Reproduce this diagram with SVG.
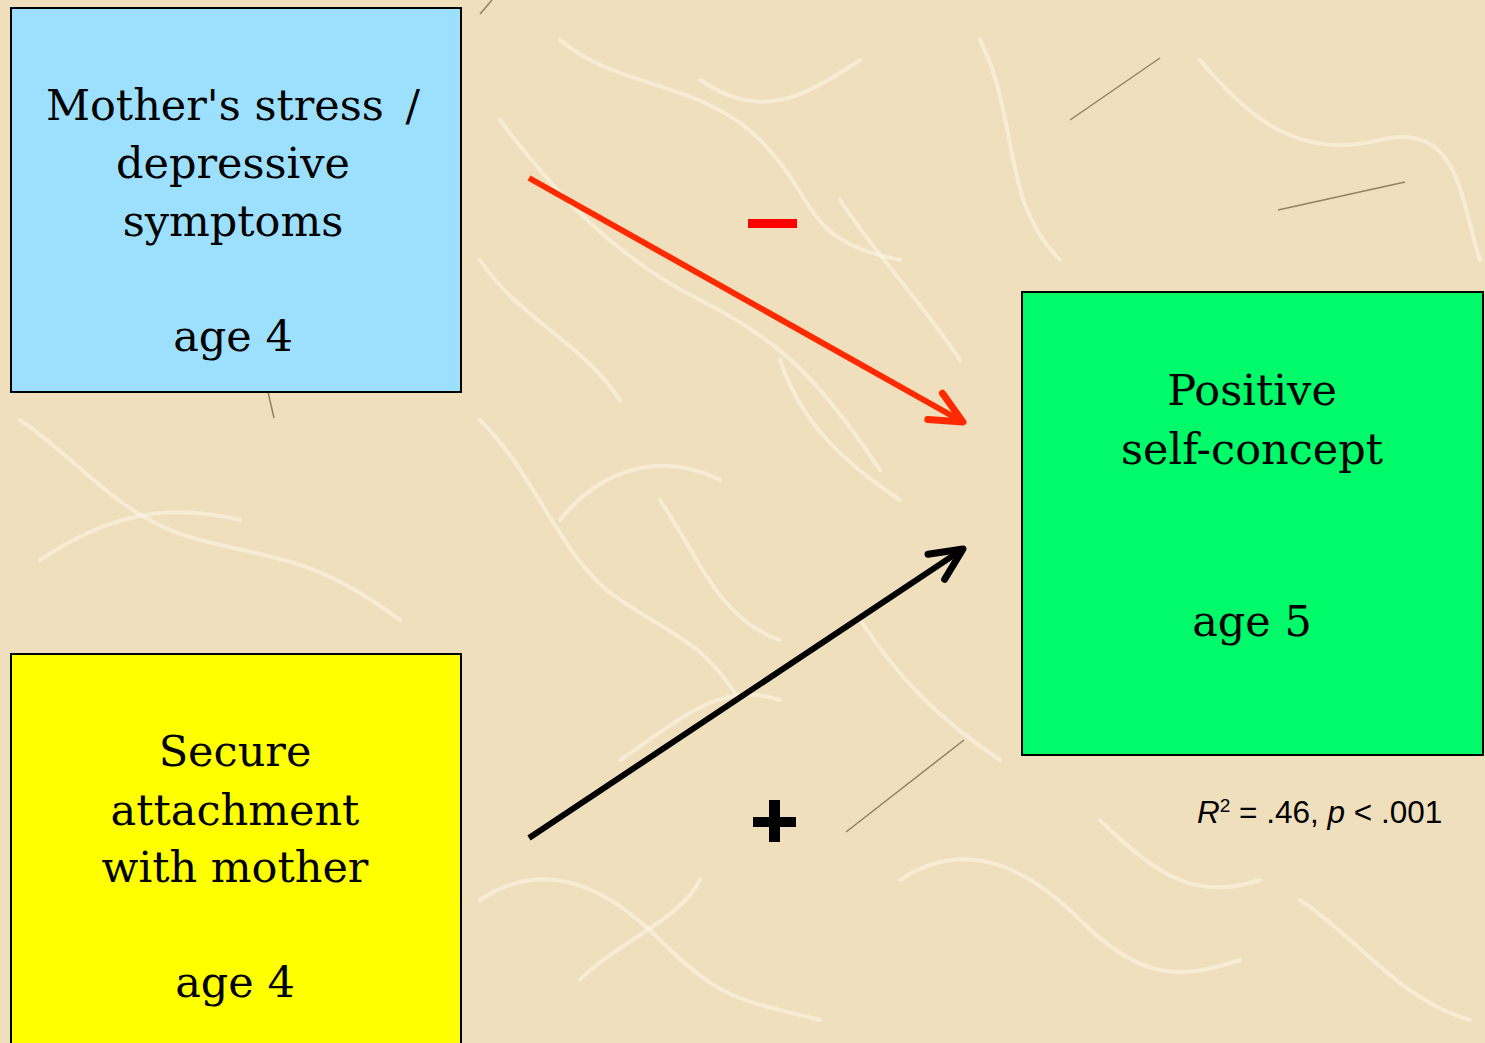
<svg xmlns="http://www.w3.org/2000/svg" width="1485" height="1043" viewBox="0 0 1485 1043">
<defs>
<style>
.box{stroke:#000;stroke-width:2}
.lbl{font-family:"DejaVu Serif","Liberation Serif",serif;font-size:43px;fill:#000;text-anchor:middle}
.fib{fill:none;stroke:#fbf6ea;stroke-width:4;stroke-linecap:round;opacity:0.6}
.hair{fill:none;stroke:#6b5a3a;stroke-width:1.5;opacity:0.7}
</style>
<marker id="hr" markerWidth="10" markerHeight="10" refX="0" refY="0" orient="auto" markerUnits="userSpaceOnUse" overflow="visible">
<path d="M-32,-15 L0,0 L-32,15" fill="none" stroke="#ff2a00" stroke-width="7" stroke-linecap="round" stroke-linejoin="round"/>
</marker>
<marker id="hb" markerWidth="10" markerHeight="10" refX="0" refY="0" orient="auto" markerUnits="userSpaceOnUse" overflow="visible">
<path d="M-32,-15 L0,0 L-32,15" fill="none" stroke="#000" stroke-width="7" stroke-linecap="round" stroke-linejoin="round"/>
</marker>
</defs>
<rect width="1485" height="1043" fill="#efdfbc"/>
<g id="texture">
<path class="fib" d="M500,120 C560,200 620,260 700,300 S820,380 880,470"/>
<path class="fib" d="M560,40 C620,90 700,80 760,140 S800,240 900,260"/>
<path class="fib" d="M700,80 C760,120 800,100 860,60"/>
<path class="fib" d="M980,40 C1020,120 1000,200 1060,260"/>
<path class="fib" d="M1200,60 C1250,120 1300,160 1380,140 S1460,200 1480,260"/>
<path class="fib" d="M480,420 C540,480 560,560 620,600 S700,640 740,700"/>
<path class="fib" d="M560,520 C600,470 660,450 720,480"/>
<path class="fib" d="M780,360 C800,420 840,460 900,500"/>
<path class="fib" d="M20,420 C80,460 120,520 200,540 S320,560 400,620"/>
<path class="fib" d="M40,560 C100,520 160,500 240,520"/>
<path class="fib" d="M480,900 C540,860 600,880 660,940 S740,1000 820,1020"/>
<path class="fib" d="M620,760 C680,720 720,680 780,700"/>
<path class="fib" d="M860,620 C900,680 940,720 1000,760"/>
<path class="fib" d="M900,880 C960,840 1020,860 1080,920 S1180,980 1240,960"/>
<path class="fib" d="M1100,820 C1160,880 1200,900 1260,880"/>
<path class="fib" d="M1300,900 C1360,940 1400,1000 1470,1020"/>
<path class="fib" d="M840,200 C880,260 920,300 960,360"/>
<path class="fib" d="M480,260 C520,320 580,340 620,400"/>
<path class="fib" d="M660,500 C700,560 720,620 780,640"/>
<path class="fib" d="M580,980 C620,940 680,920 700,880"/>
<path class="hair" d="M1070,120 L1160,58"/>
<path class="hair" d="M1278,210 L1405,182"/>
<path class="hair" d="M846,832 L964,740"/>
<path class="hair" d="M268,392 L274,418"/>
<path class="hair" d="M480,14 L492,0"/>
</g>
<g id="node-stress">
<rect class="box" x="11" y="8" width="450" height="384" fill="#9de0fd"/>
<text class="lbl" x="233" y="120">Mother's stress <tspan dx="8">/</tspan></text>
<text class="lbl" x="233" y="178">depressive</text>
<text class="lbl" x="233" y="236">symptoms</text>
<text class="lbl" x="233" y="351">age 4</text>
</g>
<g id="node-attachment">
<rect class="box" x="11" y="654" width="450" height="400" fill="#ffff00"/>
<text class="lbl" x="235" y="766">Secure</text>
<text class="lbl" x="235" y="825">attachment</text>
<text class="lbl" x="235" y="882">with mother</text>
<text class="lbl" x="235" y="997">age 4</text>
</g>
<g id="node-selfconcept">
<rect class="box" x="1022" y="292" width="461" height="463" fill="#00fa6a"/>
<text class="lbl" x="1252" y="405">Positive</text>
<text class="lbl" x="1252" y="464">self-concept</text>
<text class="lbl" x="1252" y="636">age 5</text>
</g>
<g id="connectors">
<line x1="529" y1="178" x2="963" y2="422" stroke="#ff2a00" stroke-width="6" marker-end="url(#hr)"/>
<line x1="529" y1="838" x2="963" y2="549" stroke="#000" stroke-width="6" marker-end="url(#hb)"/>
</g>
<g id="signs">
<rect x="748" y="219" width="49" height="9" fill="#ff0000"/>
<rect x="753" y="817" width="43" height="10" fill="#000"/>
<rect x="769" y="800" width="11" height="42" fill="#000"/>
</g>
<g id="stats">
<text x="1197" y="823" font-family="Liberation Sans, Arial, sans-serif" font-size="31.5" fill="#000"><tspan font-style="italic">R</tspan><tspan font-size="19" dy="-11">2</tspan><tspan dy="11"> = .46, </tspan><tspan font-style="italic">p</tspan><tspan> &lt; .001</tspan></text>
</g>
</svg>
